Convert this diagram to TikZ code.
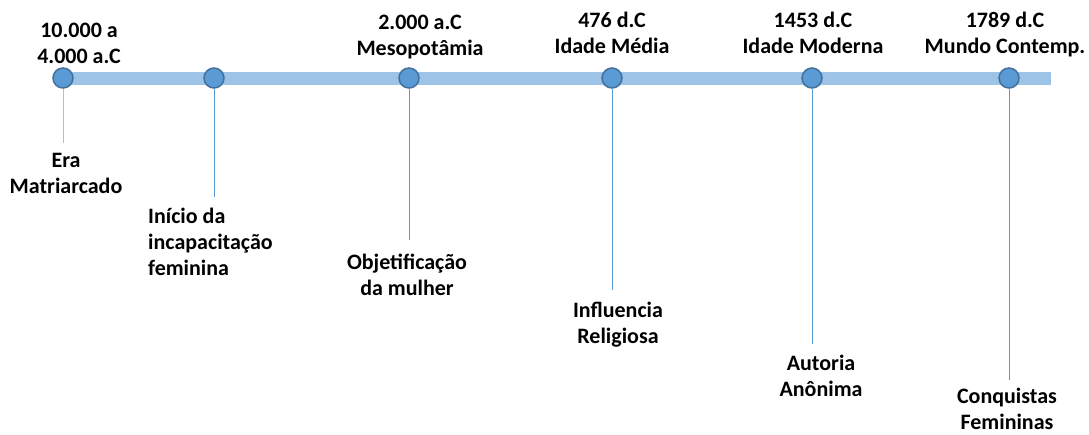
\documentclass[tikz,border=0pt]{standalone}
\usepackage{fontspec}
\setmainfont{Carlito}
\usepackage{tikz}
\usetikzlibrary{positioning,calc}

\definecolor{barblue}{HTML}{9DC3E6}
\definecolor{dotblue}{HTML}{5B9BD5}
\definecolor{dotedge}{HTML}{41719C}

\tikzset{
  dot/.style={circle, draw=dotedge, fill=dotblue, line width=1.5pt, minimum size=20pt, inner sep=0pt},
  lbl/.style={align=center, inner sep=0pt, anchor=base, font=\fontsize{22}{26}\selectfont\bfseries},
  tick/.style={dotblue, line width=1pt}
}

\begin{document}
\begin{tikzpicture}[x=1pt, y=-1pt]
        \useasboundingbox (0,0) rectangle (1089,434);

        % time bar
        \coordinate (start) at (63,78);
        \coordinate (stop) at (1051,78);
        \draw[barblue, line width=13pt] (start) -- (stop);

        \node (d1) [dot] at (63,78) {};
        \node (d2) [dot] at (214,78) {};
        \node (d3) [dot] at (409,78) {};
        \node (d4) [dot] at (612,78) {};
        \node (d5) [dot] at (812,78) {};
        \node (d6) [dot] at (1009,78) {};

        % dates
        \node (t1) [lbl] at (79,63) {10.000 a\\4.000 a.C};
        \node (t3) [lbl] at (420,55) {2.000 a.C\\Mesopotâmia};
        \node (t4) [lbl] at (612,53) {476 d.C\\Idade Média};
        \node (t5) [lbl] at (813,53) {1453 d.C\\Idade Moderna};
        \node (t6) [lbl] at (1005,53) {1789 d.C\\Mundo Contemp.};

        % events
        \node (b1) [lbl] at (66,193) {Era\\Matriarcado};
        \node (b2) [lbl, align=left, anchor=base west] at (148,275) {Início da\\incapacitação\\feminina};
        \node (b3) [lbl] at (407,295) {Objetificação\\ da mulher};
        \node (b4) [lbl] at (618,343) {Influencia\\Religiosa};
        \node (b5) [lbl] at (821,396) {Autoria\\Anônima};
        \node (b6) [lbl] at (1007,429) {Conquistas\\ Femininas};

        \coordinate (e1) at (63,143);
        \coordinate (e2) at (214,197);
        \coordinate (e3) at (409,240);
        \coordinate (e4) at (612,290);
        \coordinate (e5) at (812,344);
        \coordinate (e6) at (1009,380);

        \draw[tick, barblue] (d1) -- (e1);
        \draw[tick] (d2) -- (e2);
        \draw[tick] (d3) -- (e3);
        \draw[tick] (d4) -- (e4);
        \draw[tick] (d5) -- (e5);
        \draw[tick] (d6) -- (e6);
    \end{tikzpicture}
\end{document}
